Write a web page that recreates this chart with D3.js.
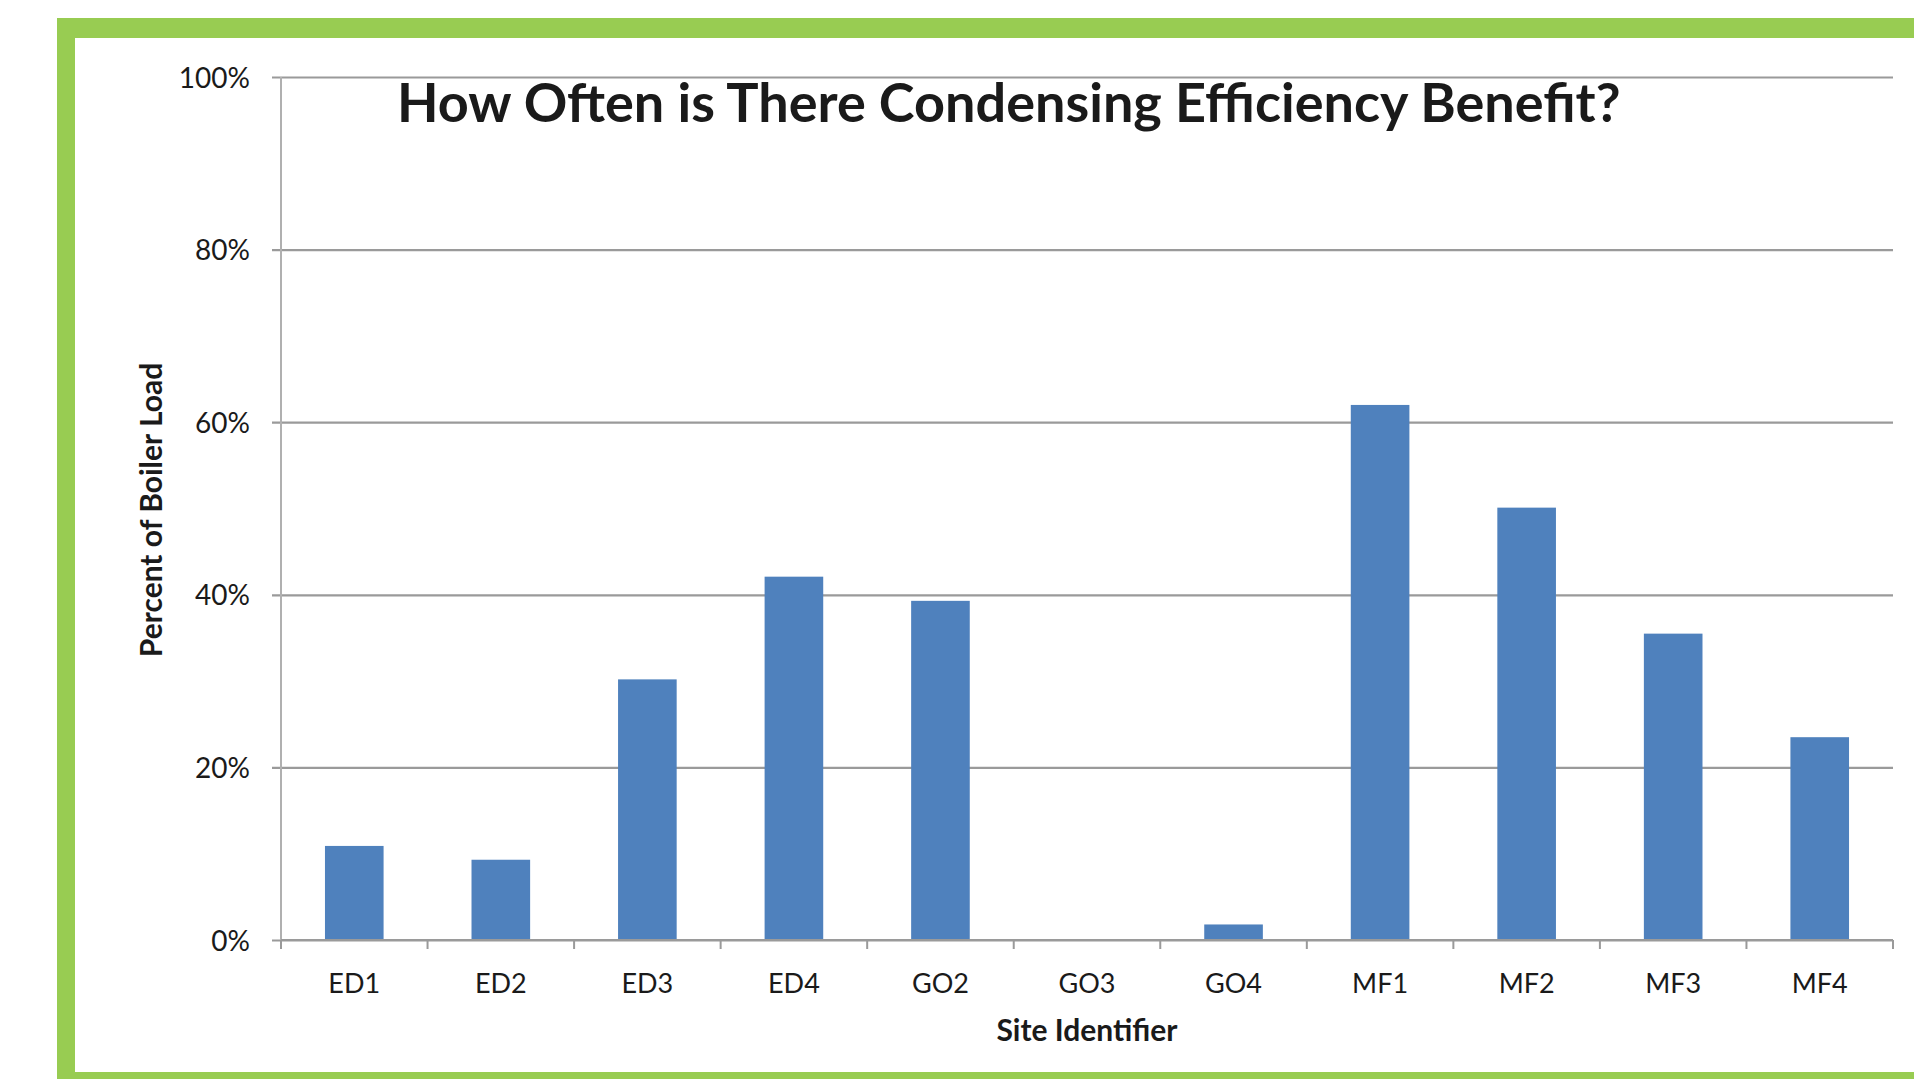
<!DOCTYPE html>
<html>
<head>
<meta charset="utf-8">
<script src="https://cdn.jsdelivr.net/npm/d3@7"></script>
<style>
  body { margin: 0; background: #fff; }
  text { font-family: Lato, "Open Sans", sans-serif; fill: #1a1a1a; }
</style>
</head>
<body>
<svg id="chart" width="1914" height="1079"></svg>
<script>
const sites = ['ED1', 'ED2', 'ED3', 'ED4', 'GO2', 'GO3', 'GO4', 'MF1', 'MF2', 'MF3', 'MF4']
const boilerLoad = [0.109, 0.093, 0.302, 0.421, 0.393, 0, 0.018, 0.62, 0.501, 0.355, 0.235]
const yTicks = [0, 0.2, 0.4, 0.6, 0.8, 1.0]

const svg = d3.select('#chart')
const green = '#98cc52'

// frame
svg.append('rect').attr('x', 57).attr('y', 18).attr('width', 1914 - 57).attr('height', 1079 - 18).attr('fill', green)
svg.append('rect').attr('x', 75).attr('y', 38).attr('width', 1914 - 75).attr('height', 1072 - 38).attr('fill', '#fff')

const plotLeft = 281, plotRight = 1893, plotTop = 77, plotBottom = 940

const x = d3.scaleBand()
  .domain(sites)
  .range([plotLeft, plotRight])
  .paddingInner(0.6)
  .paddingOuter(0.3)

const y = d3.scaleLinear()
  .domain([0, 1])
  .range([plotBottom, plotTop])

// gridlines + y labels
const yAxis = svg.append('g')
  .attr('transform', `translate(${plotLeft},0)`)
  .call(d3.axisLeft(y).tickValues(yTicks).tickFormat(d3.format('.0%')).tickSize(-(plotRight - plotLeft)).tickPadding(31))
yAxis.select('.domain').remove()
yAxis.selectAll('.tick line').attr('stroke', '#9a9a9a').attr('stroke-width', 2.2).attr('x1', -9)
yAxis.selectAll('.tick text').attr('font-size', 28).attr('fill', '#222').attr('dy', '0.36em')

svg.append('line')
  .attr('x1', plotLeft).attr('x2', plotLeft).attr('y1', plotTop).attr('y2', plotBottom + 9)
  .attr('stroke', '#b0b0b0').attr('stroke-width', 2)

// bars
svg.selectAll('.bar')
  .data(sites)
  .enter()
  .append('rect')
  .attr('class', 'bar')
  .attr('x', d => x(d))
  .attr('width', x.bandwidth())
  .attr('y', (d, i) => y(boilerLoad[i]))
  .attr('height', (d, i) => plotBottom - y(boilerLoad[i]))
  .attr('fill', '#4f81bd')

// x axis
svg.append('line')
  .attr('x1', plotLeft).attr('x2', plotRight).attr('y1', plotBottom).attr('y2', plotBottom)
  .attr('stroke', '#9a9a9a').attr('stroke-width', 2.2)
const step = x.step()
svg.selectAll('.xtick')
  .data(d3.range(sites.length + 1))
  .enter()
  .append('line')
  .attr('x1', d => plotLeft + d * step).attr('x2', d => plotLeft + d * step)
  .attr('y1', plotBottom).attr('y2', plotBottom + 9)
  .attr('stroke', '#9a9a9a').attr('stroke-width', 2)

svg.selectAll('.xlabel')
  .data(sites)
  .enter()
  .append('text')
  .attr('x', d => x(d) + x.bandwidth() / 2)
  .attr('y', 993)
  .attr('text-anchor', 'middle')
  .attr('font-size', 27)
  .attr('fill', '#222')
  .text(d => d)

// titles
svg.append('text')
  .text('How Often is There Condensing Efficiency Benefit?')
  .attr('x', 397)
  .attr('y', 122)
  .attr('font-size', 54)
  .attr('font-weight', 'bold')
  .attr('fill', '#000')

svg.append('text')
  .text('Site Identifier')
  .attr('x', (plotLeft + plotRight) / 2)
  .attr('y', 1041)
  .attr('text-anchor', 'middle')
  .attr('font-size', 30)
  .attr('font-weight', 'bold')

svg.append('text')
  .text('Percent of Boiler Load')
  .attr('transform', 'translate(162,510) rotate(-90)')
  .attr('text-anchor', 'middle')
  .attr('font-size', 30)
  .attr('font-weight', 'bold')
</script>
</body>
</html>
